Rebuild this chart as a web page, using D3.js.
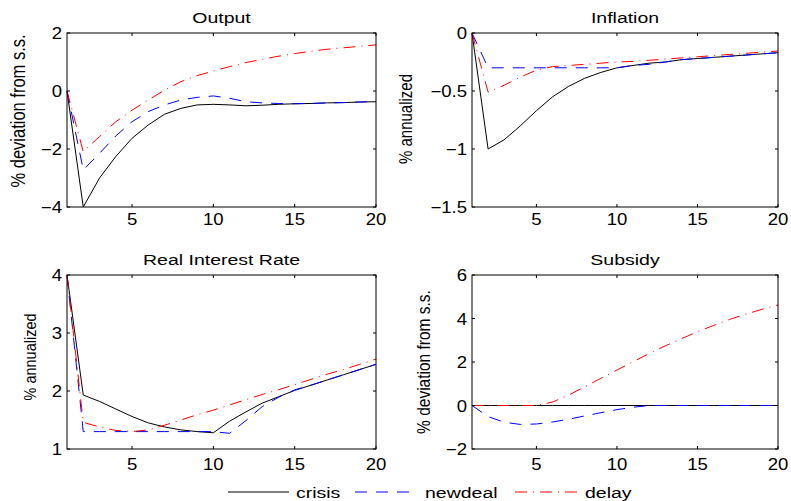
<!DOCTYPE html>
<html>
<head>
<meta charset="utf-8">
<script src="https://cdn.jsdelivr.net/npm/d3@7"></script>
<style>
    body { margin: 0; background: #fff; }
    svg text { font-family: 'Liberation Sans', Arial, sans-serif; fill: #000; }
</style>
</head>
<body>
<div id="chart"></div>
<script>
const periods = d3.range(1, 21);
const seriesNames = ['crisis', 'newdeal', 'delay'];

const crisisOutput = [0, -4.0, -3.0, -2.26, -1.63, -1.17, -0.8, -0.6, -0.48, -0.46, -0.48, -0.51, -0.49, -0.46, -0.44, -0.43, -0.41, -0.4, -0.38, -0.37];
const newdealOutput = [0, -2.72, -2.15, -1.55, -1.06, -0.71, -0.48, -0.31, -0.22, -0.17, -0.25, -0.37, -0.41, -0.43, -0.44, -0.43, -0.41, -0.4, -0.38, -0.36];
const delayOutput = [0, -2.09, -1.57, -1.06, -0.66, -0.31, 0.03, 0.32, 0.53, 0.69, 0.84, 0.98, 1.09, 1.2, 1.29, 1.37, 1.44, 1.49, 1.54, 1.59];

const crisisInflation = [0, -1.0, -0.92, -0.8, -0.67, -0.55, -0.46, -0.39, -0.34, -0.3, -0.28, -0.26, -0.25, -0.23, -0.22, -0.21, -0.2, -0.19, -0.18, -0.17];
const newdealInflation = [0, -0.3, -0.3, -0.3, -0.3, -0.3, -0.3, -0.3, -0.3, -0.3, -0.28, -0.27, -0.25, -0.23, -0.22, -0.21, -0.2, -0.19, -0.18, -0.17];
const delayInflation = [0, -0.51, -0.45, -0.38, -0.32, -0.29, -0.28, -0.27, -0.26, -0.25, -0.245, -0.235, -0.225, -0.215, -0.205, -0.195, -0.185, -0.175, -0.165, -0.155];

const crisisRate = [4, 1.93, 1.82, 1.69, 1.56, 1.45, 1.38, 1.33, 1.3, 1.28, 1.48, 1.64, 1.79, 1.9, 2.01, 2.1, 2.19, 2.28, 2.37, 2.46];
const newdealRate = [4, 1.3, 1.3, 1.3, 1.3, 1.3, 1.3, 1.3, 1.3, 1.3, 1.27, 1.49, 1.73, 1.89, 2.02, 2.1, 2.19, 2.28, 2.37, 2.46];
const delayRate = [4, 1.46, 1.38, 1.32, 1.3, 1.33, 1.41, 1.5, 1.59, 1.67, 1.76, 1.85, 1.94, 2.02, 2.11, 2.2, 2.29, 2.37, 2.46, 2.55];

const crisisSubsidy = [0, 0, 0, 0, 0, 0, 0, 0, 0, 0, 0, 0, 0, 0, 0, 0, 0, 0, 0, 0];
const newdealSubsidy = [0, -0.51, -0.77, -0.87, -0.85, -0.76, -0.63, -0.48, -0.33, -0.19, -0.08, 0, 0, 0, 0, 0, 0, 0, 0, 0];
const delaySubsidy = [0, 0, 0, 0, 0, 0.16, 0.48, 0.86, 1.25, 1.63, 2.01, 2.39, 2.74, 3.07, 3.39, 3.68, 3.96, 4.2, 4.42, 4.62];

const xTicks = [5, 10, 15, 20];

const panels = [
    { title: 'Output', ylabel: '% deviation from s.s.', yDomain: [-4, 2], yTicks: [-4, -2, 0, 2],
      series: [crisisOutput, newdealOutput, delayOutput], left: 67, right: 376, top: 33, bottom: 207,
      labelOff: 42, labelMid: 111, labelSize: 16.5, xLab: 18 },
    { title: 'Inflation', ylabel: '% annualized', yDomain: [-1.5, 0], yTicks: [-1.5, -1, -0.5, 0],
      series: [crisisInflation, newdealInflation, delayInflation], left: 472, right: 778, top: 33, bottom: 207,
      labelOff: 60, labelMid: 119, labelSize: 15, xLab: 18 },
    { title: 'Real Interest Rate', ylabel: '% annualized', yDomain: [1, 4], yTicks: [1, 2, 3, 4],
      series: [crisisRate, newdealRate, delayRate], left: 67, right: 376, top: 275, bottom: 449,
      labelOff: 31, labelMid: 357, labelSize: 14.5, xLab: 21 },
    { title: 'Subsidy', ylabel: '% deviation from s.s.', yDomain: [-2, 6], yTicks: [-2, 0, 2, 4, 6],
      series: [crisisSubsidy, newdealSubsidy, delaySubsidy], left: 472, right: 778, top: 275, bottom: 449,
      labelOff: 42, labelMid: 362, labelSize: 15.5, xLab: 21 }
];

const styles = [
    { color: '#000000', dash: null },
    { color: '#0000ff', dash: '12,9' },
    { color: '#ff0000', dash: '12,6,1,6' }
];

const svg = d3
    .select('#chart')
    .append('svg')
    .attr('width', 791)
    .attr('height', 501);

// text is drawn a bit wider than it is tall, as in the source figure
const addText = (g, x, y, str, size, sx, anchor) =>
    g.append('text')
        .attr('transform', `translate(${x},${y}) scale(${sx},1)`)
        .attr('text-anchor', anchor)
        .style('font-size', size + 'px')
        .text(str);

const fmt = v => (v < 0 ? '\u2212' : '') + Math.abs(v);

panels.forEach(p => {
    const x = d3.scaleLinear().domain([1, 20]).range([p.left, p.right]);
    const y = d3.scaleLinear().domain(p.yDomain).range([p.bottom, p.top]);
    const g = svg.append('g');

    const line = d3
        .line()
        .x((d, i) => x(periods[i]))
        .y(d => y(d));

    p.series.forEach((values, k) => {
        g.append('path')
            .datum(values)
            .attr('fill', 'none')
            .attr('stroke', styles[k].color)
            .attr('stroke-width', 1)
            .attr('stroke-dasharray', styles[k].dash)
            .attr('d', line);
    });

    // ticks pointing inward, mirrored on top and right
    xTicks.forEach(t => {
        g.append('line').attr('x1', x(t)).attr('x2', x(t))
            .attr('y1', p.bottom).attr('y2', p.bottom - 3).attr('stroke', '#000');
        g.append('line').attr('x1', x(t)).attr('x2', x(t))
            .attr('y1', p.top).attr('y2', p.top + 3).attr('stroke', '#000');
        addText(g, x(t), p.bottom + p.xLab, t, 16, 1.16, 'middle');
    });
    p.yTicks.forEach(t => {
        g.append('line').attr('x1', p.left).attr('x2', p.left + 3)
            .attr('y1', y(t)).attr('y2', y(t)).attr('stroke', '#000');
        g.append('line').attr('x1', p.right).attr('x2', p.right - 3)
            .attr('y1', y(t)).attr('y2', y(t)).attr('stroke', '#000');
        addText(g, p.left - 5, y(t) + 6, fmt(t), 16, 1.16, 'end');
    });

    g.append('rect')
        .attr('x', p.left)
        .attr('y', p.top)
        .attr('width', p.right - p.left)
        .attr('height', p.bottom - p.top)
        .attr('fill', 'none')
        .attr('stroke', '#000');

    addText(g, (p.left + p.right) / 2, p.top - 10, p.title, 15, 1.3, 'middle');

    g.append('text')
        .attr('transform', `translate(${p.left - p.labelOff},${p.labelMid}) rotate(-90) scale(1,1.2)`)
        .attr('text-anchor', 'middle')
        .style('font-size', p.labelSize + 'px')
        .text(p.ylabel);
});

// legend
const legendItems = [
    { x1: 228, x2: 289, tx: 296 },
    { x1: 355, x2: 417, tx: 425 },
    { x1: 515, x2: 577, tx: 585 }
];
const legend = svg.append('g');
seriesNames.forEach((name, k) => {
    const it = legendItems[k];
    legend.append('line')
        .attr('x1', it.x1).attr('x2', it.x2)
        .attr('y1', 492).attr('y2', 492)
        .attr('stroke', styles[k].color)
        .attr('stroke-dasharray', styles[k].dash);
    addText(legend, it.tx, 498, name, 15, 1.3, 'start');
});
</script>
</body>
</html>
